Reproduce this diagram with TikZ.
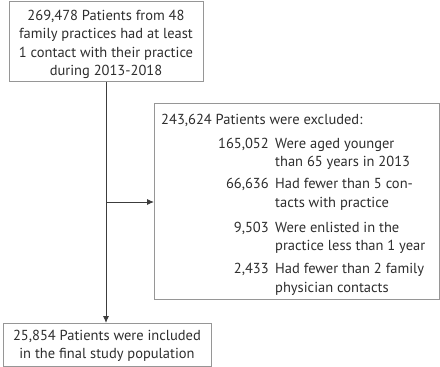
\documentclass[tikz,border=0pt]{standalone}
\usepackage{fontspec}
\setmainfont{PT Sans}
\usetikzlibrary{arrows.meta}
\definecolor{boxgray}{RGB}{150,150,150}
\definecolor{txtgray}{RGB}{45,45,45}
\definecolor{arrgray}{RGB}{60,60,60}
\tikzset{
  frame/.style={draw=boxgray, line width=0.9pt, inner sep=0pt, anchor=north west},
  txt/.style={text=txtgray, inner sep=0pt, font=\fontsize{14.5}{18}\selectfont},
  lineC/.style={txt, anchor=base},
  lineL/.style={txt, anchor=base west},
  lineR/.style={txt, anchor=base east},
  conn/.style={draw=arrgray, line width=0.9pt},
  tip/.style={-{Latex[length=7pt,width=6pt]}}
}
\begin{document}
\begin{tikzpicture}[x=1pt,y=-1pt]
\useasboundingbox (0,0) rectangle (440,367);
% boxes
\node[frame, minimum width=194pt, minimum height=80pt] (top) at (9,1) {};
\node[frame, minimum width=285pt, minimum height=196pt] (excl) at (154,103) {};
\node[frame, minimum width=208pt, minimum height=43pt] (bot) at (3,323) {};
% top box text
\node[lineC] (t1) at (106,20) {269,478 Patients from 48};
\node[lineC] (t2) at (106,38.5) {family practices had at least};
\node[lineC] (t3) at (106,57) {1 contact with their practice};
\node[lineC] (t4) at (106,75) {during 2013-2018};
% bottom box text
\node[lineC] (b1) at (107,340) {25,854 Patients were included};
\node[lineC] (b2) at (107,358) {in the final study population};
% exclusion text
\node[lineL] (e0) at (161,124) {243,624 Patients were excluded:};
\node[lineR] (n1) at (269,148) {165,052};
\node[lineL] (a1) at (275,148) {Were aged younger};
\node[lineL] (a1b) at (275,166) {than 65 years in 2013};
\node[lineR] (n2) at (269,188) {66,636};
\node[lineL] (a2) at (275,188) {Had fewer than 5 con-};
\node[lineL] (a2b) at (275,207) {tacts with practice};
\node[lineR] (n3) at (269,232) {9,503};
\node[lineL] (a3) at (275,232) {Were enlisted in the};
\node[lineL] (a3b) at (275,250) {practice less than 1 year};
\node[lineR] (n4) at (269,273) {2,433};
\node[lineL] (a4) at (275,273) {Had fewer than 2 family};
\node[lineL] (a4b) at (275,292) {physician contacts};
% connectors
\coordinate (split) at (106,202);
\draw[conn] (top.south -| split) -- (split);
\draw[conn, tip] (split) -- (split -| excl.west);
\draw[conn, tip] (split) -- (split |- bot.north);
\end{tikzpicture}
\end{document}
